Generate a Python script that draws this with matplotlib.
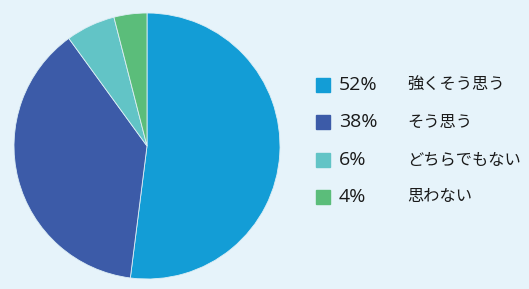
import matplotlib
matplotlib.use("Agg")
import matplotlib.pyplot as plt
from matplotlib.patches import Rectangle

plt.rcParams['font.family'] = ['Noto Sans CJK JP', 'DejaVu Sans']

labels = ["強くそう思う", "そう思う", "どちらでもない", "思わない"]
values = [52, 38, 6, 4]
colors = ["#139DD6", "#3C5BA8", "#62C4C6", "#5BBD7A"]
BG = "#E6F3FA"

W, H = 529, 289
fig = plt.figure(figsize=(W / 100, H / 100), dpi=100, facecolor=BG)

# pie: centre ~(147,146) px, radius ~133 px
cx, cy, r = 147, 146, 133
ax = fig.add_axes([(cx - r) / W, (H - cy - r) / H, 2 * r / W, 2 * r / H])
ax.pie(values, colors=colors, startangle=90, counterclock=False,
       radius=1, wedgeprops=dict(edgecolor="#DDEEF5", linewidth=0.6))
ax.set_xlim(-1, 1); ax.set_ylim(-1, 1)
ax.set_aspect("equal")
ax.axis("off")

# legend drawn in figure pixel coords
lax = fig.add_axes([0, 0, 1, 1], facecolor="none")
lax.set_xlim(0, W); lax.set_ylim(H, 0)
lax.axis("off")
rows_y = [85, 122, 160, 197]
for y, v, lab, c in zip(rows_y, values, labels, colors):
    lax.add_patch(Rectangle((316, y - 7), 14, 14, color=c))
    lax.text(339, y, f"{v}%", fontsize=14, va="center", ha="left",
             family=["Open Sans", "DejaVu Sans"], color="#1a1a1a")
    lax.text(407, y, lab, fontsize=11.7, va="center", ha="left",
             color="#1a1a1a")

fig.savefig("out.png", dpi=100, facecolor=BG)
